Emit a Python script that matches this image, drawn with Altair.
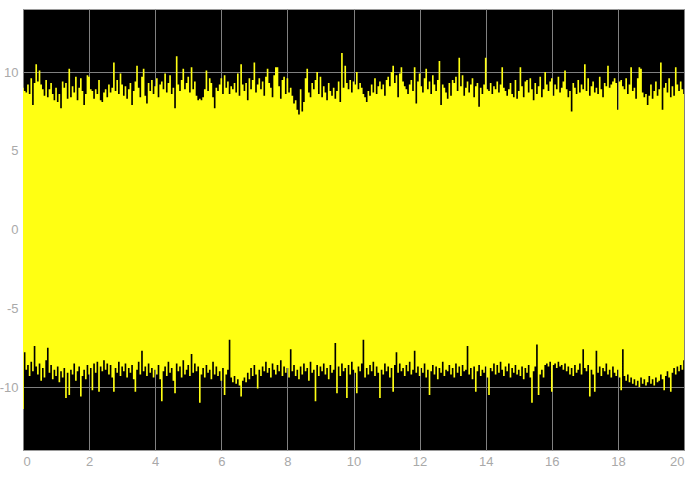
import altair as alt
import pandas as pd

# Upper envelope of the signal, sampled every 0.05 s from t = 0 to t = 20
upper = [
    9.0, 8.8, 8.7, 9.2, 8.6, 9.6, 7.9, 9.3, 10.5, 9.4, 10.1, 9.2, 8.9, 8.5, 9.5, 8.4, 8.9, 9.3, 8.6, 8.2,
    9.0, 8.1, 8.6, 7.7, 9.4, 9.0, 9.3, 8.3, 10.2, 8.4, 9.1, 8.7, 9.7, 8.2, 9.0, 9.6, 8.8, 7.9, 8.6, 9.8,
    9.7, 8.9, 8.8, 8.3, 8.9, 8.6, 9.5, 8.2, 8.1, 8.7, 8.9, 8.4, 9.2, 8.7, 9.0, 10.6, 8.8, 9.5, 8.6, 9.9,
    9.2, 8.5, 9.1, 8.3, 8.9, 9.3, 7.9, 8.8, 9.4, 10.4, 9.0, 8.4, 9.7, 10.2, 8.5, 8.0, 9.3, 8.8, 9.5, 8.6,
    9.1, 9.6, 8.4, 9.2, 9.4, 8.9, 9.9, 8.7, 9.3, 9.8, 8.6, 9.0, 7.7, 11.0, 9.2, 8.8, 9.5, 10.2, 8.9, 9.3,
    9.7, 8.7, 10.3, 8.9, 9.4, 8.5, 8.2, 8.3, 8.2, 8.4, 8.9, 10.1, 8.8, 9.6, 9.3, 8.4, 7.7, 9.0, 8.8, 9.2,
    9.6, 8.6, 9.8, 9.0, 9.4, 8.6, 9.1, 8.9, 9.3, 8.7, 9.9, 8.5, 10.5, 9.2, 8.8, 9.3, 8.2, 9.6, 8.9, 9.5,
    10.6, 8.7, 9.2, 9.6, 8.9, 9.4, 8.5, 9.7, 10.2, 9.3, 9.0, 8.4, 9.8, 10.3, 10.3, 9.1, 8.3, 9.5, 9.7, 8.6,
    9.6, 8.7, 9.0, 8.5, 8.0, 8.2, 7.6, 7.3, 8.9, 7.5, 8.1, 9.6, 10.2, 8.7, 8.4, 9.3, 8.9, 9.5, 10.0, 8.6,
    9.7, 8.4, 9.1, 8.7, 8.2, 9.3, 8.8, 8.5, 9.0, 8.3, 8.8, 9.4, 8.1, 11.2, 9.0, 10.4, 9.3, 8.9, 9.5, 8.7,
    9.4, 9.2, 10.0, 8.9, 9.3, 9.0, 8.6, 8.4, 8.1, 8.8, 8.5, 9.2, 8.7, 9.6, 8.6, 9.1, 9.4, 8.9, 9.2, 8.5,
    9.5, 9.7, 9.1, 10.0, 10.4, 9.3, 9.8, 8.4, 9.9, 10.3, 9.4, 9.1, 8.9, 8.6, 9.2, 9.5, 8.8, 10.3, 8.0, 9.4,
    9.9, 9.1, 8.7, 9.6, 10.2, 8.9, 9.4, 8.6, 9.8, 9.2, 8.8, 9.5, 10.7, 7.9, 9.2, 9.0, 8.7, 8.3, 9.3, 8.5,
    9.5, 9.3, 9.7, 8.8, 10.9, 9.1, 9.8, 8.5, 9.0, 9.4, 8.7, 9.2, 9.6, 8.4, 9.1, 9.3, 7.8, 9.0, 8.6, 9.2,
    10.9, 8.9, 8.8, 9.3, 8.6, 9.1, 8.9, 9.4, 8.7, 9.2, 10.3, 9.0, 8.8, 8.5, 8.9, 9.3, 8.6, 8.4, 9.5, 8.3,
    8.8, 10.3, 9.1, 8.4, 9.4, 9.5, 8.7, 9.6, 8.9, 8.2, 9.3, 8.6, 9.1, 9.7, 8.4, 8.9, 10.0, 9.2, 8.8, 9.4,
    9.6, 8.5, 9.2, 8.9, 9.7, 8.7, 9.0, 9.4, 10.1, 8.9, 8.4, 8.8, 7.5, 9.3, 9.0, 8.6, 9.5, 8.7, 9.2, 8.9,
    10.5, 8.8, 9.6, 8.5, 9.1, 9.4, 8.7, 9.0, 8.6, 9.7, 8.9, 8.4, 9.3, 9.1, 10.4, 9.0, 9.2, 9.4, 9.6, 9.3,
    7.6, 9.4, 9.5, 9.1, 8.9, 9.6, 8.6, 9.2, 10.3, 8.8, 9.0, 8.3, 9.6, 10.3, 10.2, 8.7, 8.4, 8.6, 7.9, 8.5,
    9.2, 8.3, 8.8, 9.4, 8.5, 8.9, 10.6, 7.6, 9.0, 9.3, 8.7, 9.6, 8.4, 9.1, 8.5, 10.3, 9.2, 8.8, 9.4, 8.9,
    8.6,
]

# Lower envelope of the signal, same sampling
lower = [
    -11.4, -7.8, -8.9, -8.6, -9.3, -8.4, -9.0, -7.4, -8.7, -9.2, -8.5, -9.6, -8.8, -9.4, -8.3, -7.5, -9.1, -8.6, -9.5, -8.9,
    -9.3, -8.7, -9.7, -9.0, -9.4, -8.8, -10.7, -9.1, -10.5, -8.9, -9.2, -8.5, -9.6, -9.0, -8.7, -10.6, -9.3, -8.9, -9.5, -8.6,
    -9.2, -8.8, -10.2, -8.5, -9.1, -8.4, -10.3, -8.7, -9.0, -8.3, -8.9, -8.5, -9.2, -8.6, -9.4, -10.3, -8.8, -9.1, -8.4, -9.3,
    -8.7, -9.0, -8.5, -9.4, -8.8, -9.1, -8.6, -9.5, -10.3, -8.9, -8.4, -9.2, -7.7, -9.0, -8.7, -9.3, -8.5, -9.1, -8.8, -9.4,
    -8.9, -9.2, -8.6, -9.5, -10.9, -9.0, -8.7, -9.3, -8.4, -9.1, -8.8, -9.6, -10.4, -8.5, -9.0, -8.7, -9.4, -8.3, -9.2, -8.9,
    -8.6, -9.3, -7.9, -9.1, -8.5, -9.0, -8.7, -11.0, -9.2, -8.8, -9.4, -8.6, -9.1, -8.9, -9.5, -8.4, -9.2, -8.7, -9.3, -9.0,
    -9.6, -8.8, -10.5, -9.2, -8.9, -7.0, -9.4, -9.7, -9.3, -9.8, -9.5, -9.9, -10.6, -9.6, -9.4, -9.7, -9.1, -9.5, -8.8, -9.3,
    -8.6, -9.2, -10.1, -8.9, -9.3, -8.7, -9.0, -8.4, -9.1, -8.8, -9.4, -8.5, -8.9, -9.2, -8.6, -9.0, -8.3, -9.3, -8.7, -9.1,
    -8.8, -9.4, -7.6, -9.0, -8.6, -9.3, -8.9, -9.5, -8.7, -9.2, -8.5, -9.0, -8.8, -9.6, -8.4, -9.1, -8.9, -10.9, -8.6, -9.3,
    -8.7, -9.0, -8.5, -9.2, -8.8, -9.5, -8.6, -9.1, -8.9, -7.2, -10.4, -8.7, -9.3, -8.5, -9.0, -8.8, -10.7, -8.6, -9.2, -8.4,
    -8.9, -9.1, -10.4, -8.7, -9.0, -8.5, -7.0, -9.4, -8.8, -9.2, -8.6, -9.0, -8.4, -9.3, -8.7, -9.1, -10.7, -8.9, -9.2, -8.5,
    -9.0, -8.7, -9.4, -8.8, -10.3, -8.6, -7.8, -9.1, -8.5, -9.0, -8.8, -9.3, -8.6, -9.0, -8.4, -9.2, -8.9, -7.7, -9.1, -8.7,
    -9.3, -8.8, -9.1, -8.5, -9.4, -8.9, -10.5, -9.0, -8.6, -9.2, -8.7, -9.5, -8.8, -9.1, -8.4, -9.3, -8.9, -9.0, -8.6, -9.2,
    -8.8, -9.4, -8.5, -9.1, -8.7, -9.3, -8.6, -9.0, -8.9, -7.4, -9.2, -8.8, -9.5, -8.7, -10.3, -9.0, -8.6, -9.3, -8.9, -9.1,
    -8.7, -9.4, -10.5, -8.8, -9.0, -8.5, -9.2, -8.6, -9.1, -8.4, -8.9, -9.3, -8.7, -9.0, -8.5, -9.4, -8.8, -9.1, -8.6, -9.2,
    -8.9, -9.3, -8.7, -9.5, -8.8, -9.1, -8.6, -9.4, -11.0, -9.0, -8.7, -7.3, -10.5, -9.2, -8.9, -9.4, -8.6, -8.5, -8.7, -8.4,
    -10.3, -8.6, -8.5, -8.8, -8.4, -8.7, -8.6, -8.9, -8.5, -9.0, -8.7, -9.2, -8.8, -9.3, -8.6, -9.1, -8.9, -8.5, -9.2, -7.6,
    -8.8, -9.0, -8.6, -10.6, -8.9, -9.2, -10.3, -7.7, -9.1, -8.7, -9.3, -8.8, -9.0, -8.5, -9.2, -8.9, -9.4, -8.7, -9.1, -9.3,
    -8.9, -9.4, -10.2, -7.6, -9.3, -9.6, -9.2, -9.7, -9.4, -9.8, -9.5, -9.9, -9.6, -10.0, -9.4, -9.8, -9.5, -9.9, -9.7, -9.3,
    -9.8, -9.5, -9.9, -9.4, -9.7, -9.6, -9.2, -9.5, -10.2, -9.3, -9.0, -9.4, -10.3, -9.1, -8.8, -9.2, -8.7, -9.0, -8.6, -8.9,
    -8.3,
]

sample_step = 0.05
x_ticks = [0, 2, 4, 6, 8, 10, 12, 14, 16, 18, 20]
y_ticks = [-10, -5, 0, 5, 10]

t = [round(i * sample_step, 2) for i in range(len(upper))]
df = pd.DataFrame({"t": t, "hi": upper, "lo": lower})

chart = (
    alt.Chart(df)
    .mark_area(interpolate="step", color="#ffff12", clip=True)
    .encode(
        x=alt.X(
            "t:Q",
            scale=alt.Scale(domain=[0, 20], nice=False, zero=False),
            axis=alt.Axis(values=x_ticks, title=None, labelExpr="'' + datum.value"),
        ),
        y=alt.Y(
            "lo:Q",
            scale=alt.Scale(domain=[-14, 14], nice=False),
            axis=alt.Axis(values=y_ticks, title=None, labelExpr="'' + datum.value"),
        ),
        y2="hi:Q",
    )
    .properties(
        width=661,
        height=441,
        autosize="none",
        padding={"left": 23, "top": 9, "right": 16, "bottom": 45},
        background="white",
    )
    .configure_view(fill="black", stroke="#9a9a9a", strokeWidth=1)
    .configure_axis(
        grid=True,
        gridColor="#808080",
        gridWidth=1,
        ticks=False,
        domain=False,
        labelColor="#a9a9a9",
        labelFont="Liberation Sans",
        labelFontSize=13,
        labelPadding=5,
    )
)

chart.save("out.html", embed_options={"renderer": "svg", "actions": False})
